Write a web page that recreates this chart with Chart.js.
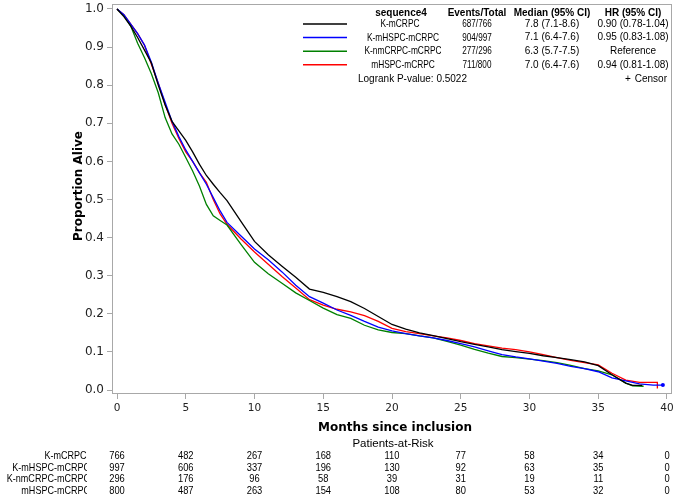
<!DOCTYPE html>
<html>
<head>
<meta charset="utf-8">
<script src="https://cdn.jsdelivr.net/npm/chart.js@4.4.1/dist/chart.umd.min.js"></script>
<style>
html,body{margin:0;padding:0;background:#fff}
#wrap{width:676px;height:495px}
</style>
</head>
<body>
<div id="wrap"><canvas id="c" width="676" height="495"></canvas></div>
<script>
// groups / legend table
const groups=['K-mCRPC','K-mHSPC-mCRPC','K-nmCRPC-mCRPC','mHSPC-mCRPC'];
const colors=['#000000','#0000ff','#008000','#ff0000'];
const eventsTotal=['687/766','904/997','277/296','711/800'];
const medians=['7.8 (7.1-8.6)','7.1 (6.4-7.6)','6.3 (5.7-7.5)','7.0 (6.4-7.6)'];
const hrs=['0.90 (0.78-1.04)','0.95 (0.83-1.08)','Reference','0.94 (0.81-1.08)'];
const logrank='Logrank P-value: 0.5022';

// axes
const xTicks=[0,5,10,15,20,25,30,35,40];
const yTicks=[0,0.1,0.2,0.3,0.4,0.5,0.6,0.7,0.8,0.9,1.0];

// patients at risk at each x tick
const riskKmCRPC=[766,482,267,168,110,77,58,34,0];
const riskKmHSPC=[997,606,337,196,130,92,63,35,0];
const riskKnmCRPC=[296,176,96,58,39,31,19,11,0];
const riskMHSPC=[800,487,263,154,108,80,53,32,0];

// survival
const months=[0,0.5,1,1.5,2,2.5,3,3.5,4,4.5,5,5.5,6,6.5,7,7.5,8,
 9,10,11,12,13,14,15,16,17,18,19,20,21,22,23,24,25,26,27,28,29,30,31,32,33,34,35,36,37];
const survKmCRPC=[1,0.98,0.955,0.925,0.892,0.858,0.80,0.748,0.705,0.68,0.655,0.625,0.592,0.563,0.54,0.518,0.497,
 0.443,0.39,0.355,0.325,0.296,0.265,0.256,0.245,0.232,0.214,0.193,0.172,0.16,0.15,0.143,0.135,0.127,0.12,0.113,0.106,0.101,0.096,0.09,0.085,0.08,0.074,0.064,0.04,0.018];
const survKmHSPC=[1,0.985,0.96,0.935,0.905,0.86,0.805,0.755,0.705,0.665,0.63,0.60,0.57,0.54,0.505,0.47,0.44,
 0.405,0.37,0.342,0.31,0.275,0.245,0.228,0.21,0.196,0.18,0.165,0.155,0.148,0.142,0.137,0.13,0.122,0.113,0.103,0.093,0.087,0.082,0.076,0.07,0.062,0.056,0.048,0.032,0.024];
const survKnmCRPC=[1,0.983,0.955,0.91,0.872,0.83,0.78,0.715,0.672,0.645,0.61,0.575,0.535,0.487,0.457,0.445,0.433,
 0.383,0.335,0.305,0.28,0.255,0.235,0.215,0.198,0.188,0.17,0.158,0.151,0.148,0.142,0.137,0.128,0.118,0.107,0.097,0.088,0.085,0.081,0.077,0.072,0.065,0.056,0.05,0.04,0.018];
const survMHSPC=[1,0.985,0.96,0.935,0.905,0.855,0.805,0.75,0.70,0.66,0.625,0.60,0.57,0.545,0.50,0.462,0.435,
 0.397,0.362,0.33,0.298,0.268,0.237,0.223,0.212,0.205,0.195,0.18,0.162,0.153,0.148,0.142,0.137,0.13,0.122,0.116,0.11,0.106,0.1,0.093,0.085,0.078,0.072,0.066,0.044,0.026];
// tails after 37 months
const tailKmCRPC=[[37.5,0.012],[38.2,0.012]];
const tailKmHSPC=[[38,0.016],[39,0.013],[39.7,0.013]];
const tailKnmCRPC=[[37.5,0.011],[38.3,0.01]];
const tailMHSPC=[[38,0.02],[39.3,0.02],[39.3,0.004]];

const survs=[survKmCRPC,survKmHSPC,survKnmCRPC,survMHSPC];
const tails=[tailKmCRPC,tailKmHSPC,tailKnmCRPC,tailMHSPC];
const risks=[riskKmCRPC,riskKmHSPC,riskKnmCRPC,riskMHSPC];

const datasets=groups.map((g,i)=>{
 const pts=months.map((m,k)=>({x:m,y:survs[i][k]})).concat(tails[i].map(p=>({x:p[0],y:p[1]})));
 return {label:g,data:pts,borderColor:colors[i],backgroundColor:colors[i],borderWidth:1.3,
  tension:0,pointRadius:c=>(i===1&&c.dataIndex===pts.length-1)?2:0,pointBorderWidth:0};
});

function txt(ctx,s,x,y,align,font,color,sx){
 ctx.save();
 ctx.font=font;ctx.fillStyle=color||'#000';ctx.textBaseline='middle';ctx.textAlign=align;
 ctx.translate(x,y);ctx.scale(sx||1,1);ctx.fillText(s,0,0);
 ctx.restore();
}

const extras={
 id:'extras',
 afterDraw(chart){
  const ctx=chart.ctx,a=chart.chartArea,xs=chart.scales.x;
  // frame
  ctx.save();ctx.strokeStyle='#a8a8a8';ctx.lineWidth=1;
  ctx.strokeRect(a.left+0.5,a.top+0.5,a.right-a.left-1,a.bottom-a.top-1);ctx.restore();
  // axis titles
  txt(ctx,'Months since inclusion',(a.left+a.right)/2+3,428,'center','bold 12px "DejaVu Sans"','#000');
  ctx.save();ctx.translate(79,186);ctx.rotate(-Math.PI/2);
  txt(ctx,'Proportion Alive',0,0,'center','bold 12px "DejaVu Sans"','#000');ctx.restore();
  // legend table
  const hf='bold 10px "Liberation Sans"',rf='10px "Liberation Sans"',nf='11px "Liberation Sans"';
  txt(ctx,'sequence4',401,13,'center',hf);
  txt(ctx,'Events/Total',477,13,'center',hf);
  txt(ctx,'Median (95% CI)',552,13,'center',hf);
  txt(ctx,'HR (95% CI)',633,13,'center',hf);
  groups.forEach((g,i)=>{
   const y=24+i*13.6;
   ctx.save();ctx.strokeStyle=colors[i];ctx.lineWidth=1.5;
   ctx.beginPath();ctx.moveTo(303,y);ctx.lineTo(347,y);ctx.stroke();ctx.restore();
   ctx.save();ctx.beginPath();ctx.rect(300,y-8,141,16);ctx.clip();
   txt(ctx,g,g.length>8?403:400,y,'center',nf,'#000',0.76);ctx.restore();
   txt(ctx,eventsTotal[i],477,y,'center',nf,'#000',0.74);
   txt(ctx,medians[i],552,y,'center',rf);
   txt(ctx,hrs[i],633,y,'center',rf);
  });
  txt(ctx,logrank,358,79,'left',rf);
  txt(ctx,'+',628,79,'center',rf);
  txt(ctx,'Censor',667,79,'right',rf);
  // risk table
  txt(ctx,'Patients-at-Risk',393,444,'center','11.5px "Liberation Sans"');
  groups.forEach((g,i)=>{
   const y=456+i*11.5;
   ctx.save();ctx.beginPath();ctx.rect(0,y-7,87,14);ctx.clip();
   txt(ctx,g,g.length>8?90:86.5,y,'right',nf,'#000',0.82);ctx.restore();
   risks[i].forEach((n,k)=>txt(ctx,String(n),xs.getPixelForValue(xTicks[k]),y,'center',nf,'#000',0.85));
  });
 }
};

new Chart(document.getElementById('c'),{
 type:'line',
 data:{datasets},
 options:{
  responsive:false,animation:false,
  layout:{padding:{top:1,right:4,left:0,bottom:0}},
  plugins:{legend:{display:false},tooltip:{enabled:false}},
  scales:{
   x:{type:'linear',min:-0.364,max:40.364,
    afterBuildTicks:s=>{s.ticks=xTicks.map(v=>({value:v}))},
    afterFit:s=>{s.height=101;s.paddingLeft=0;s.paddingRight=0},
    grid:{drawOnChartArea:false,drawTicks:true,tickLength:5,color:'#a8a8a8'},
    border:{display:false},
    ticks:{font:{family:'DejaVu Sans',size:10.5},color:'#222',padding:3,maxRotation:0,autoSkip:false,callback:v=>String(v)}
   },
   y:{type:'linear',min:-0.0104,max:1.013,
    afterBuildTicks:s=>{s.ticks=yTicks.map(v=>({value:v}))},
    afterFit:s=>{s.width=112;s.paddingTop=0;s.paddingBottom=0},
    grid:{drawOnChartArea:false,drawTicks:true,tickLength:5,color:'#a8a8a8'},
    border:{display:false},
    ticks:{font:{family:'DejaVu Sans',size:12},color:'#222',padding:3,autoSkip:false,callback:v=>v.toFixed(1)}
   }
  }
 },
 plugins:[extras]
});
</script>
</body>
</html>
